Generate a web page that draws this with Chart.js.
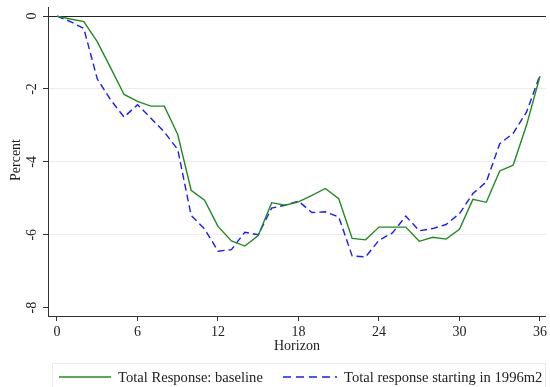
<!DOCTYPE html>
<html>
<head>
<meta charset="utf-8">
<script src="https://cdn.jsdelivr.net/npm/chart.js@4"></script>
<style>
  html, body { margin: 0; padding: 0; background: #fff; }
  canvas { display: block; }
</style>
</head>
<body>
<canvas id="chart" width="550" height="387"></canvas>
<script>
const horizon = Array.from({ length: 37 }, (_, i) => i);
const xTicks = [0, 6, 12, 18, 24, 30, 36];
const yTicks = [0, -2, -4, -6, -8];

const baseline = [
  0, -0.08, -0.15, -0.70, -1.42, -2.15, -2.34, -2.47, -2.47, -3.25,
  -4.78, -5.05, -5.77, -6.17, -6.31, -6.02, -5.12, -5.19, -5.10, -4.92,
  -4.73, -5.01, -6.10, -6.14, -5.79, -5.79, -5.79, -6.18, -6.07, -6.12,
  -5.85, -5.03, -5.11, -4.25, -4.09, -2.99, -1.65
];
const since1996 = [
  0, -0.15, -0.34, -1.72, -2.30, -2.77, -2.43, -2.80, -3.18, -3.66,
  -5.47, -5.84, -6.45, -6.41, -5.93, -6.00, -5.27, -5.19, -5.08, -5.39,
  -5.37, -5.51, -6.58, -6.61, -6.15, -5.95, -5.49, -5.89, -5.83, -5.72,
  -5.42, -4.87, -4.55, -3.50, -3.22, -2.63, -1.62
];

const seriesNames = ['Total Response: baseline', 'Total response starting in 1996m2'];
const green = '#1f8c1f';
const blue = '#1a1aff';
const axisColor = '#333';
const serif = '"Liberation Serif", "DejaVu Serif", serif';

// rotated y tick labels, Percent title and the bottom legend box
const extras = {
  id: 'extras',
  afterDraw(chart) {
    const ctx = chart.ctx;
    const y = chart.scales.y;
    ctx.save();
    ctx.fillStyle = '#222';
    ctx.font = '14px ' + serif;
    ctx.textAlign = 'center';
    ctx.textBaseline = 'middle';
    yTicks.forEach(v => {
      const py = y.getPixelForValue(v);
      ctx.save();
      ctx.translate(32, py);
      ctx.rotate(-Math.PI / 2);
      ctx.fillText(String(v), 0, 0);
      ctx.restore();
    });
    ctx.save();
    ctx.translate(16, 160);
    ctx.rotate(-Math.PI / 2);
    ctx.fillText('Percent', 0, 0);
    ctx.restore();

    // legend
    ctx.strokeStyle = '#e4ecee';
    ctx.lineWidth = 1;
    ctx.strokeRect(52.5, 363.5, 493, 30);
    const ly = 377;
    ctx.lineWidth = 1.4;
    ctx.strokeStyle = green;
    ctx.beginPath(); ctx.moveTo(59, ly); ctx.lineTo(111, ly); ctx.stroke();
    ctx.strokeStyle = blue;
    ctx.setLineDash([8, 5]);
    ctx.beginPath(); ctx.moveTo(283, ly); ctx.lineTo(337, ly); ctx.stroke();
    ctx.setLineDash([]);
    ctx.font = '14.6px ' + serif;
    ctx.textAlign = 'left';
    ctx.fillText(seriesNames[0], 118, ly + 1);
    ctx.fillText(seriesNames[1], 344, ly + 1);
    ctx.restore();
  }
};

new Chart(document.getElementById('chart'), {
  type: 'line',
  data: {
    labels: horizon,
    datasets: [
      {
        label: seriesNames[0],
        data: baseline.map((v, i) => ({ x: horizon[i], y: v })),
        borderColor: green,
        borderWidth: 1.4,
        pointRadius: 0,
        tension: 0
      },
      {
        label: seriesNames[1],
        data: since1996.map((v, i) => ({ x: horizon[i], y: v })),
        borderColor: blue,
        borderWidth: 1.4,
        borderDash: [7, 4],
        pointRadius: 0,
        tension: 0
      }
    ]
  },
  options: {
    responsive: false,
    animation: false,
    devicePixelRatio: 1,
    layout: { padding: { top: 7, right: 1, bottom: 32, left: 0 } },
    scales: {
      x: {
        type: 'linear',
        min: -0.67,
        max: 36.44,
        afterBuildTicks: s => { s.ticks = xTicks.map(v => ({ value: v })); },
        afterFit: s => { s.height = 39; },
        grid: { drawOnChartArea: false, tickLength: 5, tickColor: axisColor },
        border: { color: axisColor, width: 1 },
        ticks: {
          color: '#222',
          padding: 3,
          maxRotation: 0,
          font: { family: serif, size: 14 }
        },
        title: {
          display: true,
          text: 'Horizon',
          color: '#222',
          padding: 0,
          font: { family: serif, size: 14 }
        }
      },
      y: {
        type: 'linear',
        min: -8.23,
        max: 0.25,
        afterBuildTicks: s => { s.ticks = yTicks.map(v => ({ value: v })); },
        afterFit: s => { s.width = 48; },
        grid: {
          tickLength: 5,
          tickColor: axisColor,
          color: c => c.tick && c.tick.value === 0 ? '#222' : (c.tick && c.tick.value > -8 ? '#e6eef0' : 'rgba(0,0,0,0)'),
          lineWidth: 1
        },
        border: { color: axisColor, width: 1 },
        ticks: { display: false }
      }
    },
    plugins: {
      legend: { display: false },
      tooltip: { enabled: false }
    }
  },
  plugins: [extras]
});
</script>
</body>
</html>
